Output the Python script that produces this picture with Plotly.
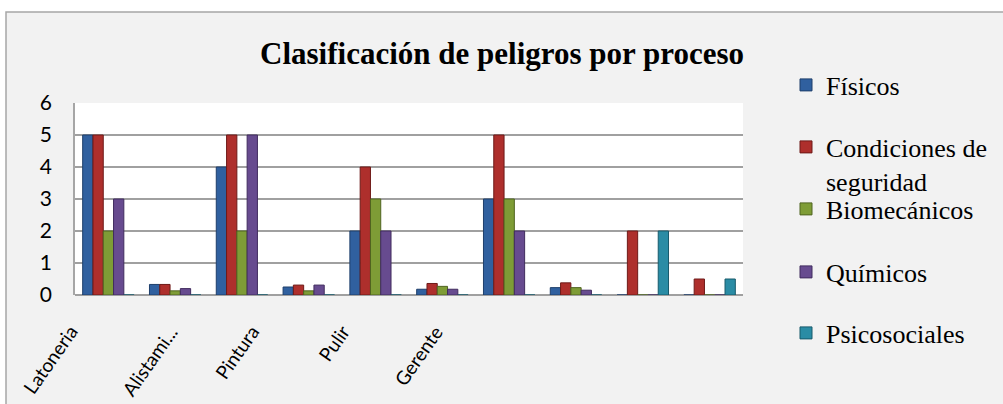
import plotly.graph_objects as go

# ---- data ----
categories = ["Latoneria", "", "Alistami...", "", "Pintura", "", "Pulir", "", "Gerente", ""]
fisicos = [5, 0.33, 4, 0.25, 2, 0.18, 3, 0.23, 0, 0]
condiciones = [5, 0.33, 5, 0.31, 4, 0.36, 5, 0.38, 2, 0.5]
biomecanicos = [2, 0.13, 2, 0.13, 3, 0.27, 3, 0.23, 0, 0]
quimicos = [3, 0.2, 5, 0.31, 2, 0.18, 2, 0.15, 0, 0]
psicosociales = [0, 0, 0, 0, 0, 0, 0, 0, 2, 0.5]

series_names = ["Físicos", "Condiciones de<br>seguridad", "Biomecánicos", "Químicos", "Psicosociales"]
series_values = [fisicos, condiciones, biomecanicos, quimicos, psicosociales]
series_colors = ["#30609F", "#AE2F2C", "#7E9C36", "#674B8F", "#2A8CA5"]
series_edges = ["#1E3F6B", "#6E1A18", "#4F6420", "#412C5E", "#175A6B"]

tick_labels = ["Latoneria", "Alistami...", "Pintura", "Pulir", "Gerente"]
tick_label_pos = [-0.36, 1.14, 2.37, 3.73, 5.11]

# ---- layout constants ----
W, H = 1003, 404
L, R, T, B = 75, 743, 103, 295
pw, ph = R - L, B - T

def px_x(p):
    return (p - L) / pw

def px_y(p):
    return (B - p) / ph

legend_y_px = [85, 164, 209, 272, 333]
legend_x_px = 786

x_idx = list(range(len(categories)))

fig = go.Figure()
legend_keys = ["legend", "legend2", "legend3", "legend4", "legend5"]
for name, vals, col, edge, lk in zip(series_names, series_values, series_colors, series_edges, legend_keys):
    fig.add_trace(go.Bar(
        x=x_idx, y=vals, name=name,
        marker=dict(color=col, line=dict(color=edge, width=1)),
        legend=lk,
    ))

legend_font = dict(family="Liberation Serif, Times New Roman, serif", size=26, color="#000000")
legends = {}
for lk, ypx in zip(legend_keys, legend_y_px):
    legends[lk] = dict(
        x=px_x(legend_x_px), xanchor="left",
        y=px_y(ypx), yanchor="middle",
        font=legend_font, bgcolor="rgba(0,0,0,0)",
        valign="top", borderwidth=0,
    )

annotations = []
for lbl, pos in zip(tick_labels, tick_label_pos):
    annotations.append(dict(
        text=lbl, x=pos, xref="x", y=px_y(318), yref="paper",
        xanchor="right", yanchor="top", showarrow=False, textangle=-55,
        font=dict(family="Lato, Open Sans, sans-serif", size=19, color="#000000"),
    ))

fig.update_layout(
    width=W, height=H,
    margin=dict(l=L, r=W - R, t=T, b=H - B, pad=0, autoexpand=False),
    paper_bgcolor="#FFFFFF",
    plot_bgcolor="#FFFFFF",
    barmode="group",
    bargap=0.23,
    bargroupgap=0,
    showlegend=True,
    title=dict(
        text="<b>Clasificación de peligros por proceso</b>",
        font=dict(family="Liberation Serif, Times New Roman, serif", size=31, color="#000000"),
        x=502 / W, xref="container", xanchor="center",
        y=1 - 53 / H, yref="container", yanchor="middle",
    ),
    xaxis=dict(
        range=[-0.5, len(categories) - 0.5],
        showticklabels=False,
        showgrid=False, zeroline=False, showline=False,
        ticks="",
        fixedrange=True,
    ),
    yaxis=dict(
        range=[0, 6], dtick=1, tick0=0,
        tickfont=dict(family="Lato, Open Sans, sans-serif", size=21, color="#000000"),
        showgrid=True, gridcolor="#A0A0A0", gridwidth=2,
        zeroline=True, zerolinecolor="#A0A0A0", zerolinewidth=2,
        showline=True, linecolor="#A6A6A6", linewidth=1.5, mirror=False,
        ticks="", ticklabelstandoff=17,
        fixedrange=True,
    ),
    shapes=[
        dict(type="rect", xref="paper", yref="paper", layer="below",
             x0=px_x(6), x1=px_x(1030), y0=px_y(440), y1=px_y(12),
             fillcolor="#F2F2F2", line=dict(color="#A6A6A6", width=1.5)),
        dict(type="rect", xref="paper", yref="paper", layer="below",
             x0=0, x1=1, y0=0, y1=1,
             fillcolor="#FFFFFF", line=dict(width=0)),
    ],
    annotations=annotations,
    **legends,
)

fig.write_html("out.html", config={"displayModeBar": False},
               post_script="document.body.style.margin='0';")
